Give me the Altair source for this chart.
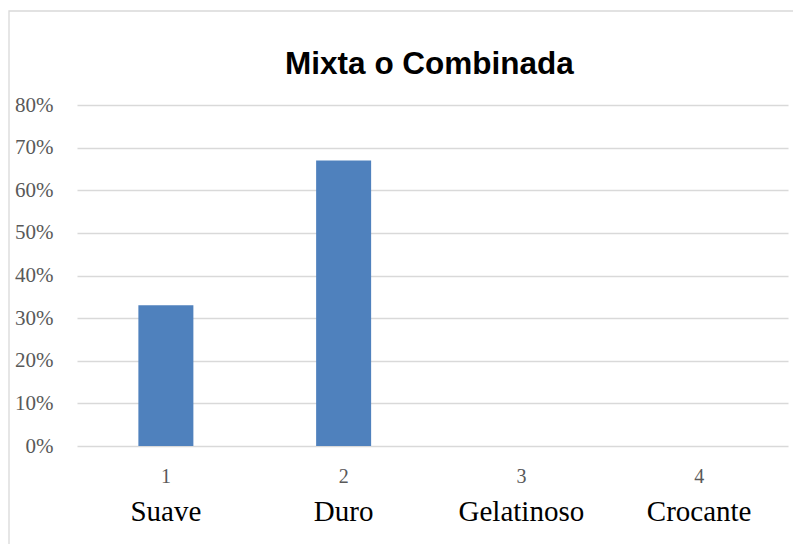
import altair as alt
import pandas as pd

title_text = "Mixta o Combinada"
numbers = ["1", "2", "3", "4"]
names = ["Suave", "Duro", "Gelatinoso", "Crocante"]
values = [0.33, 0.67, 0.0, 0.0]

df = pd.DataFrame({"num": numbers, "name": names, "value": values})

W, H = 711, 341

x = alt.X("num:N", sort=numbers, title=None,
          scale=alt.Scale(paddingInner=0, paddingOuter=0),
          axis=alt.Axis(labelAngle=0, ticks=False, domain=False, labelPadding=20,
                        labelFont="Liberation Serif", labelFontSize=20, labelColor="#595959"))

border = alt.Chart(pd.DataFrame({"a": [0]})).mark_rect(
    fillOpacity=0, stroke="#d9d9d9", strokeWidth=1.3
).encode(x=alt.value(-68), x2=alt.value(900), y=alt.value(-94), y2=alt.value(700))

title = alt.Chart(pd.DataFrame({"t": [title_text]})).mark_text(
    font="Liberation Sans", fontSize=31.5, fontWeight="bold", color="#000000",
    baseline="alphabetic", align="center"
).encode(x=alt.value(W / 2 - 3), y=alt.value(-31), text="t:N")

bars = alt.Chart(df).mark_bar(width=55, color="#4f81bd").encode(
    x=x,
    y=alt.Y("value:Q", title=None,
            scale=alt.Scale(domain=[0, 0.8]),
            axis=alt.Axis(format="%", values=[0, 0.1, 0.2, 0.3, 0.4, 0.5, 0.6, 0.7, 0.8],
                          ticks=False, domain=False, labelPadding=24,
                          gridColor="#d9d9d9", gridWidth=1.3,
                          labelFont="Liberation Serif", labelFontSize=21,
                          labelColor="#595959")),
)

labels = alt.Chart(df).mark_text(
    font="Liberation Serif", fontSize=29, color="#000000", baseline="alphabetic"
).encode(x=alt.X("num:N", sort=numbers), y=alt.value(H + 75), text="name:N")

chart = alt.layer(border, title, bars, labels).properties(
    width=W, height=H,
    padding={"left": 69, "top": 97, "right": 5, "bottom": 98},
    autosize=alt.AutoSizeParams(type="none"),
).configure_view(stroke=None)

chart.save("out.html", embed_options={"renderer": "svg", "actions": False})
